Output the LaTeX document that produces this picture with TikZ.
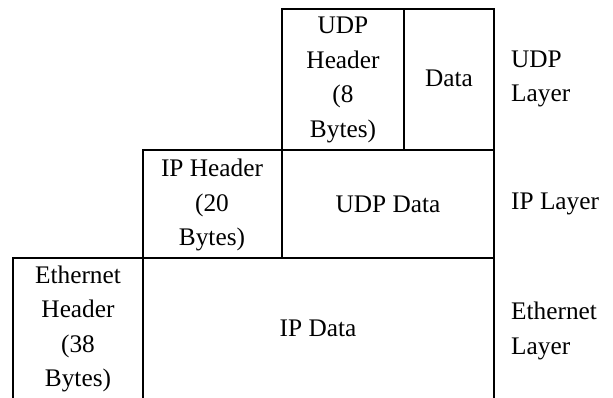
\documentclass[tikz,border=0pt]{standalone}
\usepackage{fontspec}
\setmainfont{Liberation Serif}
\begin{document}
\begin{tikzpicture}[x=1pt,y=-1pt,
  cell/.style={align=center,inner sep=0pt,font=\fontsize{25.3}{34.5}\selectfont},
  lbl/.style={align=left,anchor=west,inner sep=0pt,font=\fontsize{25.3}{34.5}\selectfont},
  rule/.style={line width=2pt,line cap=rect}]
\useasboundingbox (0,0) rectangle (613,398);
% grid lines
\draw[rule] (282,9.5) -- (494,9.5);
\draw[rule] (143,150) -- (494,150);
\draw[rule] (13,258) -- (494,258);
\draw[rule] (282,9.5) -- (282,258);
\draw[rule] (404,9.5) -- (404,150);
\draw[rule] (494,9.5) -- (494,398);
\draw[rule] (143,150) -- (143,398);
\draw[rule] (13,258) -- (13,398);
% cells
\node[cell] (udph) at (343,80) {UDP\\Header\\(8\\Bytes)};
\node[cell] (udpd) at (449,78) {Data};
\node[cell] (iph) at (212,205) {IP Header\\(20\\Bytes)};
\node[cell] (ipd) at (388,204) {UDP Data};
\node[cell] (ethh) at (78,329) {Ethernet\\Header\\(38\\Bytes)};
\node[cell] (ethd) at (318,328) {IP Data};
% layer labels
\node[lbl] (l1) at (511,79) {UDP\\Layer};
\node[lbl] (l2) at (511,204) {IP Layer};
\node[lbl] (l3) at (511,331) {Ethernet\\Layer};
\end{tikzpicture}
\end{document}
